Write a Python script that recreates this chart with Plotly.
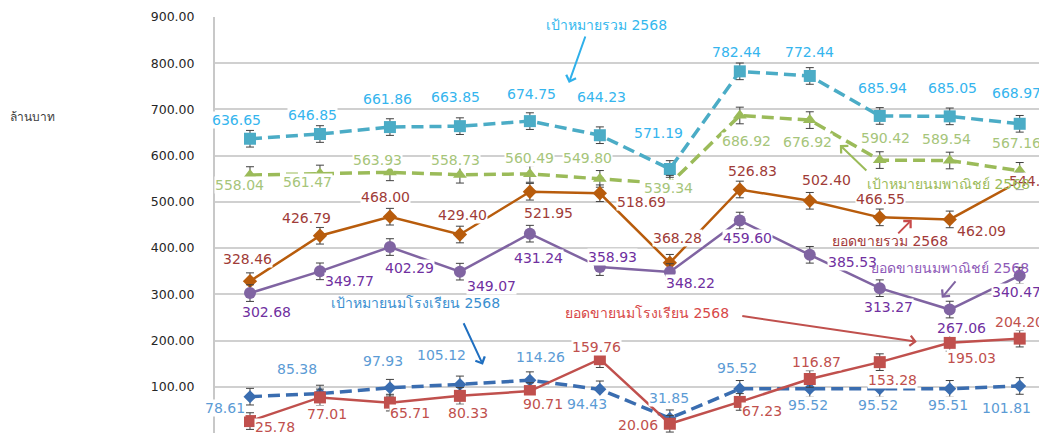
import plotly.graph_objects as go

months = list(range(12))

target_total = [636.65, 646.85, 661.86, 663.85, 674.75, 644.23, 571.19, 782.44, 772.44, 685.94, 685.05, 668.97]
target_comm = [558.04, 561.47, 563.93, 558.73, 560.49, 549.80, 539.34, 686.92, 676.92, 590.42, 589.54, 567.16]
sales_total = [328.46, 426.79, 468.00, 429.40, 521.95, 518.69, 368.28, 526.83, 502.40, 466.55, 462.09, 544.66]
sales_comm = [302.68, 349.77, 402.29, 349.07, 431.24, 358.93, 348.22, 459.60, 385.53, 313.27, 267.06, 340.47]
target_school = [78.61, 85.38, 97.93, 105.12, 114.26, 94.43, 31.85, 95.52, 95.52, 95.52, 95.51, 101.81]
sales_school = [25.78, 77.01, 65.71, 80.33, 90.71, 159.76, 20.06, 67.23, 116.87, 153.28, 195.03, 204.20]

y_ticks = [100, 200, 300, 400, 500, 600, 700, 800, 900]
unit_label = "ล้านบาท"

name_target_total = "เป้าหมายรวม 2568"
name_target_comm = "เป้าหมายนมพาณิชย์ 2568"
name_sales_total = "ยอดขายรวม 2568"
name_sales_comm = "ยอดขายนมพาณิชย์ 2568"
name_target_school = "เป้าหมายนมโรงเรียน 2568"
name_sales_school = "ยอดขายนมโรงเรียน 2568"

ERR = 18

# label offsets in pixels (dx, dy) - styling only
off_target_total = [(-13, -19), (-7, -19), (-2, -28), (-4, -29), (2, -27), (2, -38), (-11, -36), (-3, -19), (0, -24), (3, -28), (3, -28), (-3, -31)]
off_target_comm = [(-10, 10), (-12, 9), (-12, -12), (-4, -15), (0, -16), (-12, -21), (-1, 4), (7, 26), (-2, 22), (6, -22), (-3, -22), (-3, -28)]
off_sales_total = [(-2, -22), (-13, -18), (-4, -20), (3, -20), (19, 21), (42, 9), (8, -25), (13, -18), (17, -21), (1, -18), (32, 12), (14, 0)]
off_sales_comm = [(17, 19), (30, 10), (20, 21), (32, 14), (9, 24), (13, -10), (21, 11), (8, 17), (43, 7), (9, 19), (12, 18), (-3, 16)]
off_target_school = [(-25, 11), (-23, -25), (-7, -27), (-18, -29), (11, -23), (-13, 15), (-1, -20), (-3, -21), (-2, 16), (-2, 16), (-2, 16), (-13, 22)]
off_sales_school = [(25, 6), (7, 17), (20, 10), (8, 17), (13, 13), (-3, -12), (-32, 1), (22, 9), (7, -17), (13, 18), (22, 15), (0, -17)]

FONT = "Tahoma, 'DejaVu Sans', sans-serif"

fig = go.Figure()

def add_series(vals, name, color, dash, width, symbol, msize):
    fig.add_trace(go.Scatter(
        x=months, y=vals, name=name, mode="lines+markers",
        line=dict(color=color, width=width, dash=dash),
        marker=dict(symbol=symbol, size=msize, color=color),
        error_y=dict(type="constant", value=ERR, color="#404040", thickness=1, width=4),
        showlegend=False,
    ))

add_series(target_total, name_target_total, "#4bacc6", "12px,6px", 3.5, "square", 12)
add_series(target_comm, name_target_comm, "#9bbb59", "12px,6px", 3.5, "triangle-up", 12)
add_series(sales_total, name_sales_total, "#b85c0c", "solid", 2.5, "diamond", 11)
add_series(sales_comm, name_sales_comm, "#8064a2", "solid", 2.5, "circle", 12)
add_series(target_school, name_target_school, "#3a6db0", "12px,6px", 3.5, "diamond", 10)
add_series(sales_school, name_sales_school, "#c0504d", "solid", 2.5, "square", 12)

annotations = []

def add_labels(vals, offs, color):
    for i, (v, (dx, dy)) in enumerate(zip(vals, offs)):
        annotations.append(dict(
            x=months[i], y=v, xref="x", yref="y", text=f"{v:.2f}",
            showarrow=False, xshift=dx, yshift=-dy,
            font=dict(family=FONT, size=14, color=color),
            bgcolor="white", borderpad=0,
        ))

add_labels(target_total, off_target_total, "#35b5ee")
add_labels(target_comm, off_target_comm, "#a6c57a")
add_labels(sales_total, off_sales_total, "#a03c38")
add_labels(sales_comm, off_sales_comm, "#7030a0")
add_labels(target_school, off_target_school, "#5b9bd5")
add_labels(sales_school, off_sales_school, "#c0504d")

# callout texts
callouts = [
    (name_target_total, 5.1, 882.7, "#33b8ee"),
    (name_target_comm, 9.98, 538.9, "#9bbb59"),
    (name_sales_total, 9.14, 415.7, "#a33a3a"),
    (name_sales_comm, 10.0, 357.3, "#8e5ab8"),
    (name_target_school, 2.37, 281.6, "#3a8fd0"),
    (name_sales_school, 5.67, 260.0, "#d84848"),
]
for t, x, y, c in callouts:
    annotations.append(dict(x=x, y=y, xref="x", yref="y", text=t, showarrow=False,
                            font=dict(family=FONT, size=14, color=c)))

arrows = [
    (4.557, 757.3, 17, -48, "#2fb0ea"),
    (8.43, 623.2, 28, 27, "#9bbb59"),
    (9.457, 461.1, -15, 15, "#c84a4a"),
    (9.886, 292.4, 15, -18, "#8064a2"),
    (3.329, 147.6, -20, -43, "#1f6fc0"),
    (9.529, 197.3, -176, -26, "#c0504d"),
]
for x, y, ax, ay, c in arrows:
    annotations.append(dict(x=x, y=y, xref="x", yref="y", text="", showarrow=True,
                            ax=ax, ay=ay, arrowcolor=c, arrowwidth=2, arrowhead=4, arrowsize=1))

annotations.append(dict(x=-207 / 832, y=1 - (108 - 17) / 416, xref="paper", yref="paper",
                        text=unit_label, showarrow=False, xanchor="left",
                        font=dict(family=FONT, size=12, color="#404040")))

# page body adds an 8px offset; figure sized to fit the window
fig.update_layout(
    width=1039, height=425,
    margin=dict(l=207, r=0, t=9, b=0),
    paper_bgcolor="white", plot_bgcolor="white",
    annotations=annotations,
    xaxis=dict(range=[-0.5, 11.39], showticklabels=False, showgrid=False, zeroline=False,
               showline=False, automargin=False),
    yaxis=dict(range=[0, 900], tickvals=y_ticks, ticktext=[f"{v:.2f}" for v in y_ticks],
               showgrid=True, gridcolor="#d0d0d0", gridwidth=1.5, zeroline=False,
               showline=True, linecolor="#c8c8c8", linewidth=2, automargin=False,
               ticks="", ticklabelstandoff=16,
               tickfont=dict(family=FONT, size=12.5, color="#262626")),
)

fig.write_html("out.html")
